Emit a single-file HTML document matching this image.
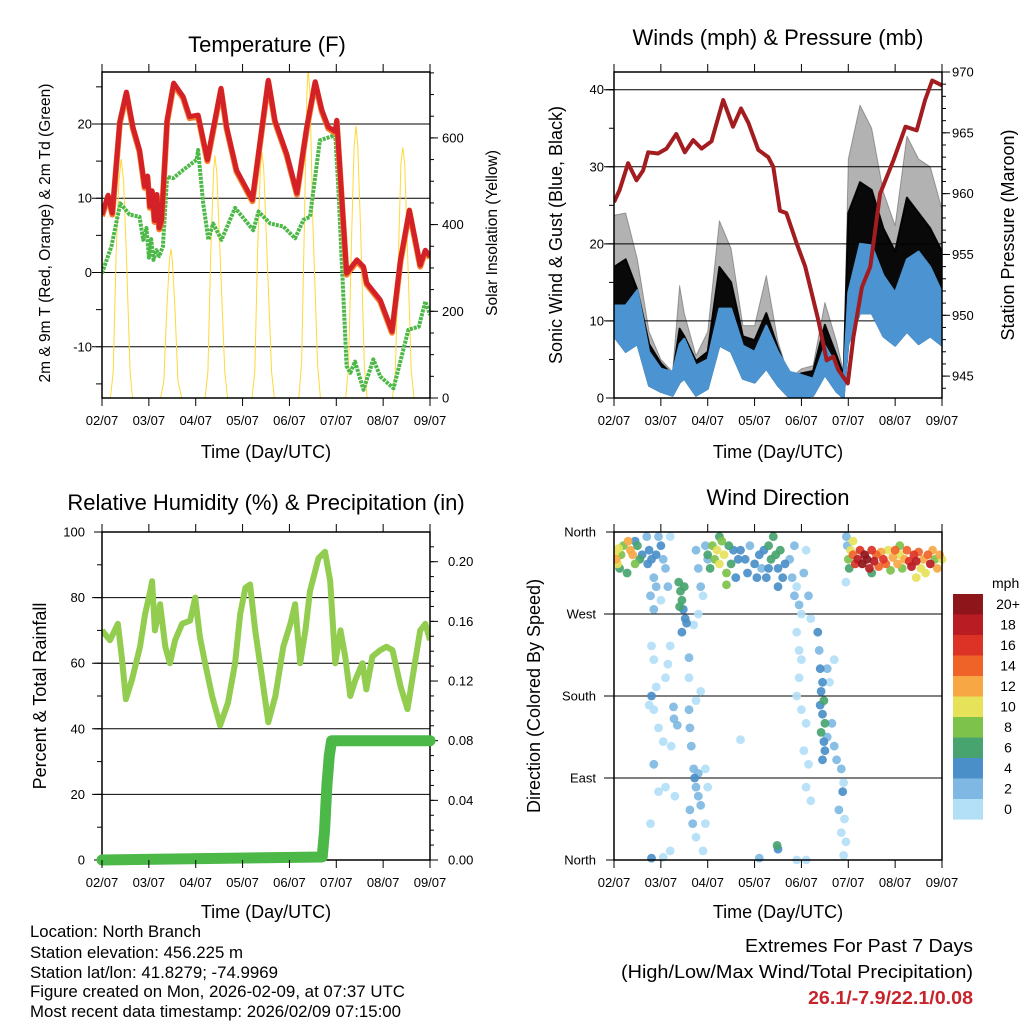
<!DOCTYPE html>
<html><head><meta charset="utf-8"><style>
html,body{margin:0;padding:0;background:#fff;}
svg{display:block;font-family:"Liberation Sans",Arial,sans-serif;}
</style></head><body>
<svg id="svg" width="1024" height="1024" viewBox="0 0 1024 1024">
<defs>
<clipPath id="c1"><rect x="102" y="72" width="328" height="326"/></clipPath>
<clipPath id="c2"><rect x="614" y="72" width="328" height="326"/></clipPath>
<clipPath id="c3"><rect x="102" y="532" width="328" height="328"/></clipPath>
<clipPath id="c4"><rect x="614" y="532" width="334" height="332"/></clipPath>
</defs>
<g id="root"></g>
<text x="267" y="52" font-size="22" text-anchor="middle">Temperature (F)</text>
<text x="778" y="45" font-size="22" text-anchor="middle">Winds (mph) &amp; Pressure (mb)</text>
<text x="266" y="510" font-size="22" text-anchor="middle">Relative Humidity (%) &amp; Precipitation (in)</text>
<text x="778" y="505" font-size="22" text-anchor="middle">Wind Direction</text>
<text x="266" y="458" font-size="18" text-anchor="middle">Time (Day/UTC)</text>
<text x="778" y="458" font-size="18" text-anchor="middle">Time (Day/UTC)</text>
<text x="266" y="918" font-size="18" text-anchor="middle">Time (Day/UTC)</text>
<text x="778" y="918" font-size="18" text-anchor="middle">Time (Day/UTC)</text>
<text transform="translate(50,233) rotate(-90)" font-size="15.5" text-anchor="middle">2m &amp; 9m T (Red, Orange) &amp; 2m Td (Green)</text>
<text transform="translate(497,233) rotate(-90)" font-size="15.5" text-anchor="middle">Solar Insolation (Yellow)</text>
<text transform="translate(562,235) rotate(-90)" font-size="18" text-anchor="middle">Sonic Wind &amp; Gust (Blue, Black)</text>
<text transform="translate(1014,235) rotate(-90)" font-size="18" text-anchor="middle">Station Pressure (Maroon)</text>
<text transform="translate(46,696) rotate(-90)" font-size="18" text-anchor="middle">Percent &amp; Total Rainfall</text>
<text transform="translate(540,696) rotate(-90)" font-size="18" text-anchor="middle">Direction (Colored By Speed)</text>
<g font-size="16.5">
<text x="30" y="937" textLength="171" lengthAdjust="spacingAndGlyphs">Location: North Branch</text>
<text x="30" y="958" textLength="213" lengthAdjust="spacingAndGlyphs">Station elevation: 456.225 m</text>
<text x="30" y="978" textLength="248" lengthAdjust="spacingAndGlyphs">Station lat/lon: 41.8279; -74.9969</text>
<text x="30" y="997" textLength="375" lengthAdjust="spacingAndGlyphs">Figure created on Mon, 2026-02-09, at 07:37 UTC</text>
<text x="30" y="1017" textLength="371" lengthAdjust="spacingAndGlyphs">Most recent data timestamp: 2026/02/09 07:15:00</text>
</g>
<text x="745" y="952" font-size="18" textLength="228" lengthAdjust="spacingAndGlyphs">Extremes For Past 7 Days</text>
<text x="621" y="978" font-size="18" textLength="352" lengthAdjust="spacingAndGlyphs">(High/Low/Max Wind/Total Precipitation)</text>
<text x="808" y="1004" font-size="18" font-weight="bold" fill="#c8242b" textLength="165" lengthAdjust="spacingAndGlyphs">26.1/-7.9/22.1/0.08</text>
</svg>
<script>
// ---------- data ----------
const dayLabels=["02/07","03/07","04/07","05/07","06/07","07/07","08/07","09/07"];
const tempDay=[0,0.13,0.22,0.38,0.52,0.66,0.8,0.91,0.97,1.02,1.07,1.12,1.17,1.22,1.27,1.39,1.53,1.73,1.87,2.05,2.25,2.41,2.54,2.66,2.87,3.21,3.37,3.55,3.69,3.94,4.16,4.37,4.55,4.69,4.83,4.98,5.01,5.22,5.44,5.58,5.65,5.94,6.19,6.37,6.56,6.79,6.9,7.0];
const tempVal=[7.8,10.4,8,20.3,24.3,19.6,16.5,11.6,13,8.9,11,7,10.5,6,7,20.5,25.5,23.7,21,21.2,15.2,20.5,24.8,19.6,13.8,9.8,17.4,25.9,20.5,16,10.7,19.6,25.7,21.9,19.6,19,20.5,-0.1,1.7,0.8,-1.4,-3.7,-7.9,1.7,8.4,1,3,2.2];
const dewDay=[0,0.2,0.39,0.59,0.8,0.88,0.95,1.0,1.05,1.1,1.16,1.22,1.3,1.39,1.52,1.73,2.02,2.05,2.16,2.27,2.37,2.55,2.84,3.23,3.34,3.59,3.87,4.12,4.3,4.44,4.65,4.98,5.05,5.22,5.3,5.4,5.58,5.79,5.94,6.22,6.54,6.76,6.9,7.0];
const dewVal=[-0.1,3.5,9.3,7.8,7.5,4.4,6,2,4.5,1.7,3,2.2,3.5,12.9,12.7,13.8,15.2,16.5,9.3,4.4,6.6,4.4,8.7,5.7,8.2,6.6,6.2,4.6,7.1,7.5,17.8,18.5,10.7,-12.6,-13.5,-12,-15.8,-11.7,-14,-15.6,-7.7,-7.3,-3.9,-5.7];
const solarDay=[0,0.18,0.24,0.3,0.36,0.41,0.46,0.52,0.6,0.65,1.25,1.32,1.38,1.44,1.47,1.5,1.56,1.62,1.7,2.2,2.26,2.32,2.38,2.41,2.45,2.52,2.62,2.68,3.2,3.26,3.32,3.38,3.41,3.45,3.52,3.62,3.68,4.2,4.26,4.32,4.37,4.4,4.44,4.5,4.6,4.66,5.2,5.26,5.33,5.38,5.42,5.46,5.52,5.6,5.66,6.2,6.26,6.33,6.38,6.42,6.46,6.52,6.6,6.66,7.0];
const solarVal=[0,0,60,330,500,551,500,330,60,0,0,40,200,320,344,320,200,40,0,0,60,330,520,559,520,330,60,0,0,60,340,530,567,530,340,60,0,0,80,400,700,760,700,400,80,0,0,70,380,580,628,580,380,70,0,0,60,340,540,578,540,340,60,0,0];
const windDay=[0,0.25,0.5,0.75,1,1.25,1.4,1.5,1.75,2,2.25,2.5,2.75,3,3.25,3.5,3.75,4,4.25,4.5,4.75,4.9,5.0,5.25,5.5,5.75,6,6.25,6.5,6.75,7];
const sustHi=[12,12,14,6,3.8,3.4,7,7.7,4.2,5,11.6,11.6,6.8,6,9.4,6,3.4,3,2.5,6.8,4.2,2.5,13.7,20,19.8,15.9,13.7,18,19,17,13.7];
const sustLo=[8,6,7,1.6,0.8,0.3,2,2.5,0.3,1.2,6.8,6,2.5,2,3.8,1.6,0,0,0.3,3,0.8,0,7,11,11,8,6.8,8.6,7,8,6.8];
const gustHi=[23.7,24,18,8.6,5,3.4,14.6,11,5.5,8.6,23,19.4,9.4,9.4,15.9,7.3,2.5,3.8,4.2,12.4,7.3,3.4,31,38,35,26.7,22.4,34,31,30,24.5];
const gustMid=[17,18,14,7,4.5,3,9,8,4.8,6,17,15,8,7.5,11,6.5,2.5,3.2,3.5,9.5,5.5,3,24,28,27,22,19,26,24,22,19];
const presDay=[0,0.12,0.3,0.48,0.62,0.73,0.94,1.12,1.33,1.51,1.69,1.87,2.08,2.33,2.54,2.71,2.87,3.08,3.29,3.4,3.54,3.68,3.9,4.08,4.36,4.54,4.68,4.79,4.99,5.11,5.29,5.47,5.68,5.97,6.22,6.46,6.64,6.79,7.0];
const presVal=[959.3,960.3,962.5,961.1,961.9,963.4,963.3,963.7,964.9,963.4,964.4,963.7,964.3,967.7,965.5,967,965.8,963.6,963,962.2,958.6,958.4,955.9,954,949.6,946.3,946.6,945.5,944.4,948.2,952.3,954,960,962.8,965.5,965.2,967.7,969.3,968.9];
const rhDay=[0,0.17,0.34,0.43,0.51,0.64,0.81,0.92,1.03,1.07,1.13,1.24,1.35,1.45,1.56,1.71,1.88,1.99,2.09,2.2,2.35,2.52,2.69,2.84,2.95,3.06,3.16,3.27,3.42,3.55,3.7,3.87,4.02,4.12,4.23,4.34,4.44,4.62,4.76,4.87,4.98,5.09,5.19,5.3,5.41,5.56,5.64,5.77,5.94,6.07,6.2,6.37,6.52,6.62,6.79,6.9,7.0];
const rhVal=[70,67,72,61,49,55,65,75,82,85,70,78,65,60,67,72,73,80,68,60,50,41,48,60,75,83,84,70,55,42,50,65,72,78,60,70,82,92,94,85,60,70,62,50,55,60,52,62,64,65,64,53,46,55,70,72,67];
const precipDay=[0,4.7,4.75,4.8,4.85,4.9,7.0];
const precipVal=[0,0.002,0.02,0.05,0.07,0.08,0.08];
const dirDay=[0.02,0.05,0.1,0.12,0.2,0.3,0.35,0.4,0.45,0.5,0.55,0.6,0.28,0.08,0.15,0.45,
0.7,0.75,0.8,0.85,0.9,0.95,1.0,1.05,1.1,0.78,0.85,1.15,1.2,1.0,0.72,0.9,
1.38,1.42,1.45,1.48,1.5,1.52,1.55,1.45,1.4,
0.8,0.85,0.75,0.85,0.9,1.1,1.15,1.2,1.22,1.27,1.28,1.35,0.95,1.05,0.85,0.95,1.1,1.3,0.78,1.2,1.05,0.8,1.6,1.6,
1.6,1.62,1.65,1.7,1.72,1.75,1.8,1.85,1.68,1.75,1.9,1.8,1.95,2.0,1.62,1.95,1.75,1.85,
1.75,1.8,1.85,1.9,1.95,2.0,1.8,1.7,
2.0,2.05,2.1,2.15,2.2,2.25,2.3,2.35,2.4,2.45,2.5,2.55,2.6,2.65,2.4,2.25,
2.7,2.8,2.85,2.9,3.0,3.05,3.1,3.15,3.2,3.25,3.3,3.35,3.4,3.45,3.5,3.55,3.6,3.65,3.3,3.5,
3.75,3.8,3.85,3.9,3.95,4.0,4.05,4.1,4.15,4.2,3.85,
3.9,3.95,4.0,3.95,3.9,4.0,4.1,4.05,4.15,4.1,4.2,4.35,4.38,4.4,4.45,4.42,4.48,4.4,4.45,4.5,4.42,4.48,4.5,4.45,4.55,4.6,4.65,4.7,4.75,4.85,4.9,4.88,4.8,4.92,4.85,4.95,4.9,4.55,4.7,3.9,4.1,
3.48,3.5,2.7,3.1,0.8,
5.0,5.02,5.05,5.1,5.15,5.2,5.25,5.3,5.35,5.4,5.45,5.5,5.55,5.6,5.65,5.7,5.75,5.8,5.85,5.9,5.95,6.0,6.05,6.1,6.15,6.2,6.25,6.3,6.35,6.4,6.45,6.5,6.55,6.6,6.65,6.7,6.75,6.8,6.85,6.9,6.95,7.0,6.45,5.5,5.1,6.1,
4.96,4.98,4.95];
const dirVal=[337,330,342,320,345,350,340,335,325,345,330,335,315,325,335,350,
355,340,330,310,300,355,345,330,320,290,275,300,355,285,325,335,
305,295,285,275,300,265,260,250,278,
235,220,170,165,190,200,215,235,125,168,155,148,145,130,105,75,80,70,40,10,3,2,222,200,
165,145,125,100,90,80,70,60,40,25,10,95,100,80,55,40,175,185,
340,320,300,290,345,330,270,258,
335,320,345,330,340,325,350,335,315,345,325,340,310,330,302,355,
340,330,315,345,325,310,335,320,340,310,345,330,355,335,320,340,310,325,320,300,
330,310,290,300,280,270,315,340,290,265,345,
250,230,220,200,180,165,150,120,105,80,65,250,230,210,195,185,175,170,160,150,140,130,120,110,135,195,150,125,110,100,85,75,55,45,30,20,5,210,220,0,0,
16,12,132,2,180,
330,320,340,335,325,330,340,325,335,330,320,340,328,335,322,338,330,325,340,318,332,340,325,335,320,330,340,328,322,335,328,338,320,330,315,335,325,340,330,320,335,330,310,315,350,345,
355,345,305];
const dirSpd=[10,12,11,6,8,12,13,12,8,6,7,5,7,10,9,4,
3,4,4,2,2,3,4,2,2,2,2,2,1,1,5,5,
6,7,6,5,7,4,4,4,6,
1,0,1,1,1,1,1,0,1,2,3,2,1,1,2,1,1,0,0,1,1,4,2,1,
3,3,2,2,4,3,2,2,2,1,1,2,1,1,3,1,1,1,
2,3,2,1,3,2,1,1,
7,6,8,9,10,10,8,10,9,7,6,4,5,4,9,6,
4,4,4,3,4,4,5,3,4,5,6,7,6,7,5,6,4,4,4,4,
2,2,2,1,3,1,2,1,2,1,3,
1,1,1,0,1,0,1,1,1,1,0,4,3,4,5,4,6,5,4,6,6,4,5,4,2,1,2,2,2,2,1,4,3,1,1,1,1,3,1,0,0,
7,4,1,2,4,
8,6,10,14,16,18,17,20,21,20,18,16,19,15,14,13,16,14,11,8,12,14,13,10,9,12,14,16,18,17,19,14,11,13,10,15,18,12,9,13,12,11,10,6,10,8,
2,2,1];
const legendLabels=["20+","18","16","14","12","10","8","6","4","2","0"];
const speedColors=["#b3e0f7","#7fb8e3","#4a8fc8","#47a46e","#7dc24b","#e6e25a","#f7a845","#ef6329","#dc3326","#b91c22","#8e1519"];

// ---------- helpers ----------
const NS="http://www.w3.org/2000/svg";
const root=document.getElementById('root');
function mk(tag,attrs,parent){const e=document.createElementNS(NS,tag);for(const k in attrs)e.setAttribute(k,attrs[k]);(parent||root).appendChild(e);return e;}
function lin(d0,d1,r0,r1){return v=>r0+(v-d0)/(d1-d0)*(r1-r0);}
const P1={x0:102,x1:430,y0:72,y1:398},P2={x0:614,x1:942,y0:72,y1:398},P3={x0:102,x1:430,y0:532,y1:860},P4={x0:614,x1:942,y0:532,y1:860};
function pathOf(xs,ys,fx,fy){return xs.map((d,i)=>(i?'L':'M')+fx(d).toFixed(1)+','+fy(ys[i]).toFixed(1)).join('');}
function xAxis(P,fx,name){
  for(let i=0;i<dayLabels.length;i++){
    const x=fx(i);
    let t=mk('line',{x1:x,x2:x,y1:P.y1,y2:P.y1+8,stroke:'#000','stroke-width':1});
    
    
    t=mk('line',{x1:x,x2:x,y1:P.y0,y2:P.y0-8,stroke:'#000','stroke-width':1});
    
    
    const l=mk('text',{x:x,y:P.y1+27,'font-size':13,'text-anchor':'middle'});
    l.textContent=dayLabels[i];
    
    
  }
}
function grid(P,y,name){const g=mk('line',{x1:P.x0-10,x2:P.x1,y1:y,y2:y,stroke:'#000','stroke-width':1});
  
  }
function yLabel(x,y,txt,anchor,name,size){const l=mk('text',{x:x,y:y+4.5,'font-size':size||13,'text-anchor':anchor});l.textContent=txt;
  
  }
function tick(x1,x2,y,name){const t=mk('line',{x1:x1,x2:x2,y1:y,y2:y,stroke:'#000','stroke-width':1});
  
  }
function box(P,name){const b=mk('rect',{x:P.x0,y:P.y0,width:P.x1-P.x0,height:P.y1-P.y0,fill:'none',stroke:'#000','stroke-width':1.5});
  
  }

// ---------- panel 1: temperature ----------
{
const fx=lin(0,7,P1.x0,P1.x1), fy=lin(-16.9,27,P1.y1,P1.y0), fs=lin(0,752,P1.y1,P1.y0);
[-10,0,10,20].forEach(v=>{grid(P1,fy(v),'temp-gridline');yLabel(92,fy(v),String(v),'end','temp-y-tick-label');});
for(let v=-15;v<=25;v+=5)tick(P1.x0-6,P1.x0,fy(v),'temp-y-minor-tick');
[0,200,400,600].forEach(v=>{tick(P1.x1,P1.x1+8,fs(v),'solar-y-tick');yLabel(442,fs(v),String(v),'start','solar-y-tick-label');});
for(let v=50;v<=750;v+=50)tick(P1.x1,P1.x1+4,fs(v),'solar-y-minor-tick');
const g=mk('g',{'clip-path':'url(#c1)'});


let p=mk('path',{d:pathOf(solarDay,solarVal,fx,fs),fill:'none',stroke:'#ffd83a','stroke-width':1},g);


p=mk('path',{d:pathOf(dewDay,dewVal,fx,fy),fill:'none',stroke:'#4cb848','stroke-width':4,'stroke-dasharray':'3 1','stroke-linejoin':'round'},g);


p=mk('path',{d:pathOf(tempDay,tempVal,fx,fy),fill:'none',stroke:'#f57f2a','stroke-width':6,'stroke-linejoin':'round',transform:'translate(0,1.5)'},g);


p=mk('path',{d:pathOf(tempDay,tempVal,fx,fy),fill:'none',stroke:'#d42127','stroke-width':5,'stroke-linejoin':'round'},g);


box(P1,'temperature-plot-frame');
xAxis(P1,fx,'temp');
}
// ---------- panel 2: wind & pressure ----------
{
const fx=lin(0,7,P2.x0,P2.x1), fy=lin(0,42.3,P2.y1,P2.y0), fp=lin(943.2,970,P2.y1,P2.y0);
[10,20,30,40].forEach(v=>grid(P2,fy(v),'wind-gridline'));
[0,10,20,30,40].forEach(v=>{tick(P2.x0-8,P2.x0,fy(v),'wind-y-tick');yLabel(604,fy(v),String(v),'end','wind-y-tick-label');});
for(let v=5;v<=40;v+=5)tick(P2.x0-5,P2.x0,fy(v),'wind-y-minor-tick');
[945,950,955,960,965,970].forEach(v=>{tick(P2.x1,P2.x1+8,fp(v),'pressure-y-tick');yLabel(952,fp(v),String(v),'start','pressure-y-tick-label');});
for(let v=944;v<=970;v++)tick(P2.x1,P2.x1+4,fp(v),'pressure-y-minor-tick');
const g=mk('g',{'clip-path':'url(#c2)'});


function band(lo,hi,color,op,name,sw){
  const d=pathOf(windDay,hi,fx,fy)+windDay.slice().reverse().map((t,i)=>'L'+fx(t).toFixed(1)+','+fy(lo[lo.length-1-i]).toFixed(1)).join('')+'Z';
  const b=mk('path',{d:d,fill:color,'fill-opacity':op,stroke:color,'stroke-opacity':op,'stroke-width':sw,'stroke-linejoin':'round'},g);
  
  
}
band(sustLo,gustHi,'#000',0.3,'gust-band-sparse',1);
band(sustLo,gustMid,'#000',0.95,'gust-band-dense',2);
band(sustLo,sustHi,'#4b94d1',1,'sustained-wind-band',2);
const p=mk('path',{d:pathOf(presDay,presVal,fx,fp),fill:'none',stroke:'#a31c1f','stroke-width':4,'stroke-linejoin':'round'},g);


box(P2,'wind-plot-frame');
xAxis(P2,fx,'wind');
}
// ---------- panel 3: RH & precip ----------
{
const fx=lin(0,7,P3.x0,P3.x1), fy=lin(0,100,P3.y1,P3.y0), fr=lin(0,0.2,860,561.7);
[20,40,60,80].forEach(v=>grid(P3,fy(v),'rh-gridline'));
[0,20,40,60,80,100].forEach(v=>{tick(P3.x0-8,P3.x0,fy(v),'rh-y-tick');yLabel(85,fy(v),String(v),'end','rh-y-tick-label');});
for(let v=10;v<=100;v+=10)tick(P3.x0-5,P3.x0,fy(v),'rh-y-minor-tick');
["0.00","0.04","0.08","0.12","0.16","0.20"].forEach(s=>{const v=parseFloat(s);tick(P3.x1,P3.x1+8,fr(v),'precip-y-tick');yLabel(448,fr(v),s,'start','precip-y-tick-label');});
for(let v=0;v<=0.22;v+=0.01)tick(P3.x1,P3.x1+4,fr(v),'precip-y-minor-tick');
const g=mk('g',{'clip-path':'url(#c3)'});


let p=mk('path',{d:pathOf(rhDay,rhVal,fx,fy),fill:'none',stroke:'#92cd50','stroke-width':6,'stroke-linejoin':'round'},g);


box(P3,'rh-plot-frame');
p=mk('path',{d:pathOf(precipDay,precipVal,fx,fr),fill:'none',stroke:'#4cb848','stroke-width':11,'stroke-linejoin':'round','stroke-linecap':'round'});


xAxis(P3,fx,'rh');
}
// ---------- panel 4: wind direction ----------
{
const fx=lin(0,7,P4.x0,P4.x1), fy=lin(0,360,P4.y1,P4.y0);
const names=["North","East","South","West","North"];
[0,90,180,270,360].forEach((v,i)=>{if(v>0&&v<360)grid(P4,fy(v),'direction-gridline');tick(P4.x0-8,P4.x0,fy(v),'direction-y-tick');yLabel(596,fy(v),names[i],'end','direction-y-tick-label');});
const g=mk('g',{'clip-path':'url(#c4)'});


const n=Math.min(dirDay.length,dirVal.length,dirSpd.length);
const order=[...Array(n).keys()].sort((a,b)=>dirSpd[a]-dirSpd[b]);
order.forEach(i=>{
  const ci=Math.min(10,Math.floor(dirSpd[i]/2));
  const c=mk('circle',{cx:fx(dirDay[i]).toFixed(1),cy:fy(dirVal[i]).toFixed(1),r:4.4,fill:speedColors[ci],'fill-opacity':0.92},g);
  
  
});
box(P4,'direction-plot-frame');
xAxis(P4,fx,'dir');
// legend
const t=mk('text',{x:992,y:588,'font-size':14});
t.textContent='mph';


legendLabels.forEach((s,i)=>{
  const y=594+i*20.5;
  const r=mk('rect',{x:953,y:y,width:30,height:20.6,fill:speedColors[10-i]});
  
  
  const l=mk('text',{x:1008,y:y+15,'font-size':14,'text-anchor':'middle'});
  l.textContent=s;
  
  
});
}
</script>
</body></html>
